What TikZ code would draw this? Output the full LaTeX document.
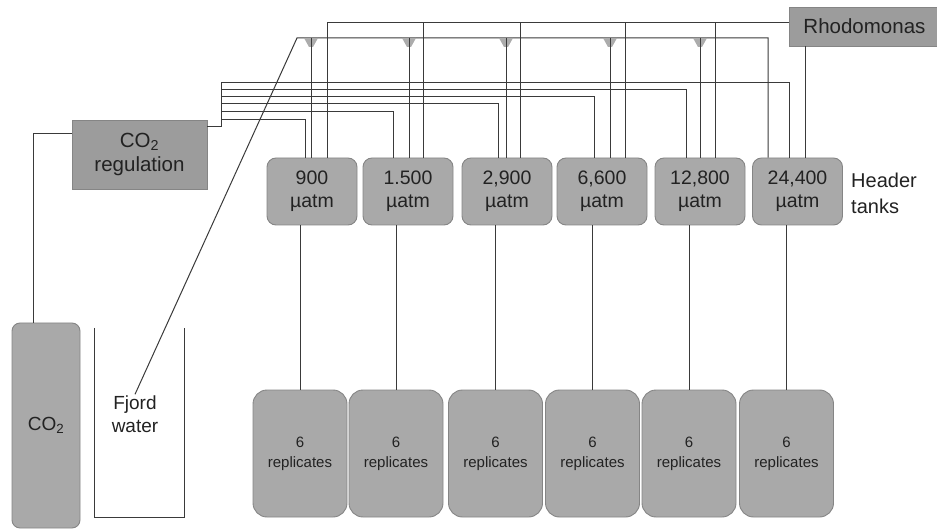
\documentclass[tikz,border=0pt]{standalone}
\usepackage{fontspec}
\setmainfont{Liberation Sans}
\definecolor{boxfill}{HTML}{A9A9A9}
\definecolor{darkfill}{HTML}{9C9C9C}
\definecolor{boxedge}{HTML}{858585}
\definecolor{pipecol}{HTML}{3A3A3A}
\definecolor{txt}{HTML}{222222}
\begin{document}
\begin{tikzpicture}[x=1pt,y=-1pt,
  every node/.style={text=txt},
  tankbox/.style={draw=boxedge,fill=boxfill,line width=0.9pt,rounded corners=9pt,
    minimum width=90pt,minimum height=67pt,align=center,inner sep=0pt,
    font=\fontsize{19.5}{23}\selectfont},
  repbox/.style={draw=boxedge,fill=boxfill,line width=0.9pt,rounded corners=14pt,
    minimum width=94pt,minimum height=127pt,align=center,inner sep=0pt,
    font=\fontsize{15}{20}\selectfont},
  plainbox/.style={draw=boxedge,fill=darkfill,line width=0.9pt,align=center,inner sep=0pt,
    font=\fontsize{20.5}{24}\selectfont},
  pipe/.style={draw=pipecol,line width=1pt},
  valve/.style={fill=gray!65}]
\useasboundingbox (0,0) rectangle (937,529);

% header tanks
\node[tankbox] (h1) at (312,191.5) {900\\µatm};
\node[tankbox] (h2) at (408,191.5) {1.500\\µatm};
\node[tankbox] (h3) at (507,191.5) {2,900\\µatm};
\node[tankbox] (h4) at (602,191.5) {6,600\\µatm};
\node[tankbox] (h5) at (700,191.5) {12,800\\µatm};
\node[tankbox] (h6) at (797.5,191.5) {24,400\\µatm};
\node[align=left,anchor=west,inner sep=0pt,font=\fontsize{20}{26}\selectfont] (hl) at (851,193) {Header\\tanks};

% replicate tanks
\node[repbox] (r1) at (300,453.5) {6\\replicates};
\node[repbox] (r2) at (396,453.5) {6\\replicates};
\node[repbox] (r3) at (495.5,453.5) {6\\replicates};
\node[repbox] (r4) at (592.5,453.5) {6\\replicates};
\node[repbox] (r5) at (689,453.5) {6\\replicates};
\node[repbox] (r6) at (786.5,453.5) {6\\replicates};

% sources
\node[plainbox,minimum width=150pt,minimum height=39pt,anchor=west] (rh) at (789,26.5) {Rhodomonas};
\node[plainbox,minimum width=135pt,minimum height=69pt] (reg) at (139.5,154.5) {CO\textsubscript{2}\\regulation};
\node[draw=boxedge,fill=boxfill,line width=0.9pt,rounded corners=8pt,minimum width=68pt,
  minimum height=205pt,inner sep=0pt,font=\fontsize{19}{22}\selectfont] (cyl) at (46,425.5) {CO\textsubscript{2}};
\node[align=center,inner sep=1pt,font=\fontsize{19}{23}\selectfont] (fjord) at (135,414) {Fjord\\water};
\draw[pipe,line width=0.9pt] (94,328) -- (94,517) -- (184,517) -- (184,328);

% CO2 supply
\draw[pipe] ([xshift=-13pt]cyl.north) |- ([yshift=20.5pt]reg.west);
\coordinate (bus) at (221,127);
\draw[pipe] (reg.east |- bus) -- (bus) -- (221,83);
\foreach \i/\y/\x in {1/120/305,2/112/393,3/104/498,4/97/594,5/90/686,6/83/789}{
  \draw[pipe] (221,\y) -- (\x,\y) coordinate (c\i) -- (c\i |- h\i.north);
}

% fjord water supply
\coordinate (fv) at (297,38);
\coordinate (fend) at (768,38);
\draw[pipe] (fjord.north) -- (fv) -- (fend) -- (fend |- h6.north);
\foreach \i/\x in {1/311,2/409,3/506,4/610,5/700}{
  \coordinate (f\i) at (\x,38);
  \fill[valve] (f\i) ++(-7,0) -- ++(14,0) -- ++(-5,9) -- ++(-4,0) -- cycle;
  \draw[pipe] (f\i) -- (f\i |- h\i.north);
}

% Rhodomonas supply
\coordinate (rs) at (327,23);
\draw[pipe] (rs |- h1.north) -- (rs) -- (rs -| rh.west);
\foreach \i/\x in {2/423,3/520,4/625,5/715}{
  \coordinate (q\i) at (\x,23);
  \draw[pipe] (q\i) -- (q\i |- h\i.north);
}
\draw[pipe] ([xshift=16pt]rh.south west) coordinate (rd) -- (rd |- h6.north);

% header tanks to replicates
\foreach \i in {1,...,6}{
  \draw[pipe] (r\i.north) -- (r\i.north |- h\i.south);
}
\end{tikzpicture}
\end{document}
